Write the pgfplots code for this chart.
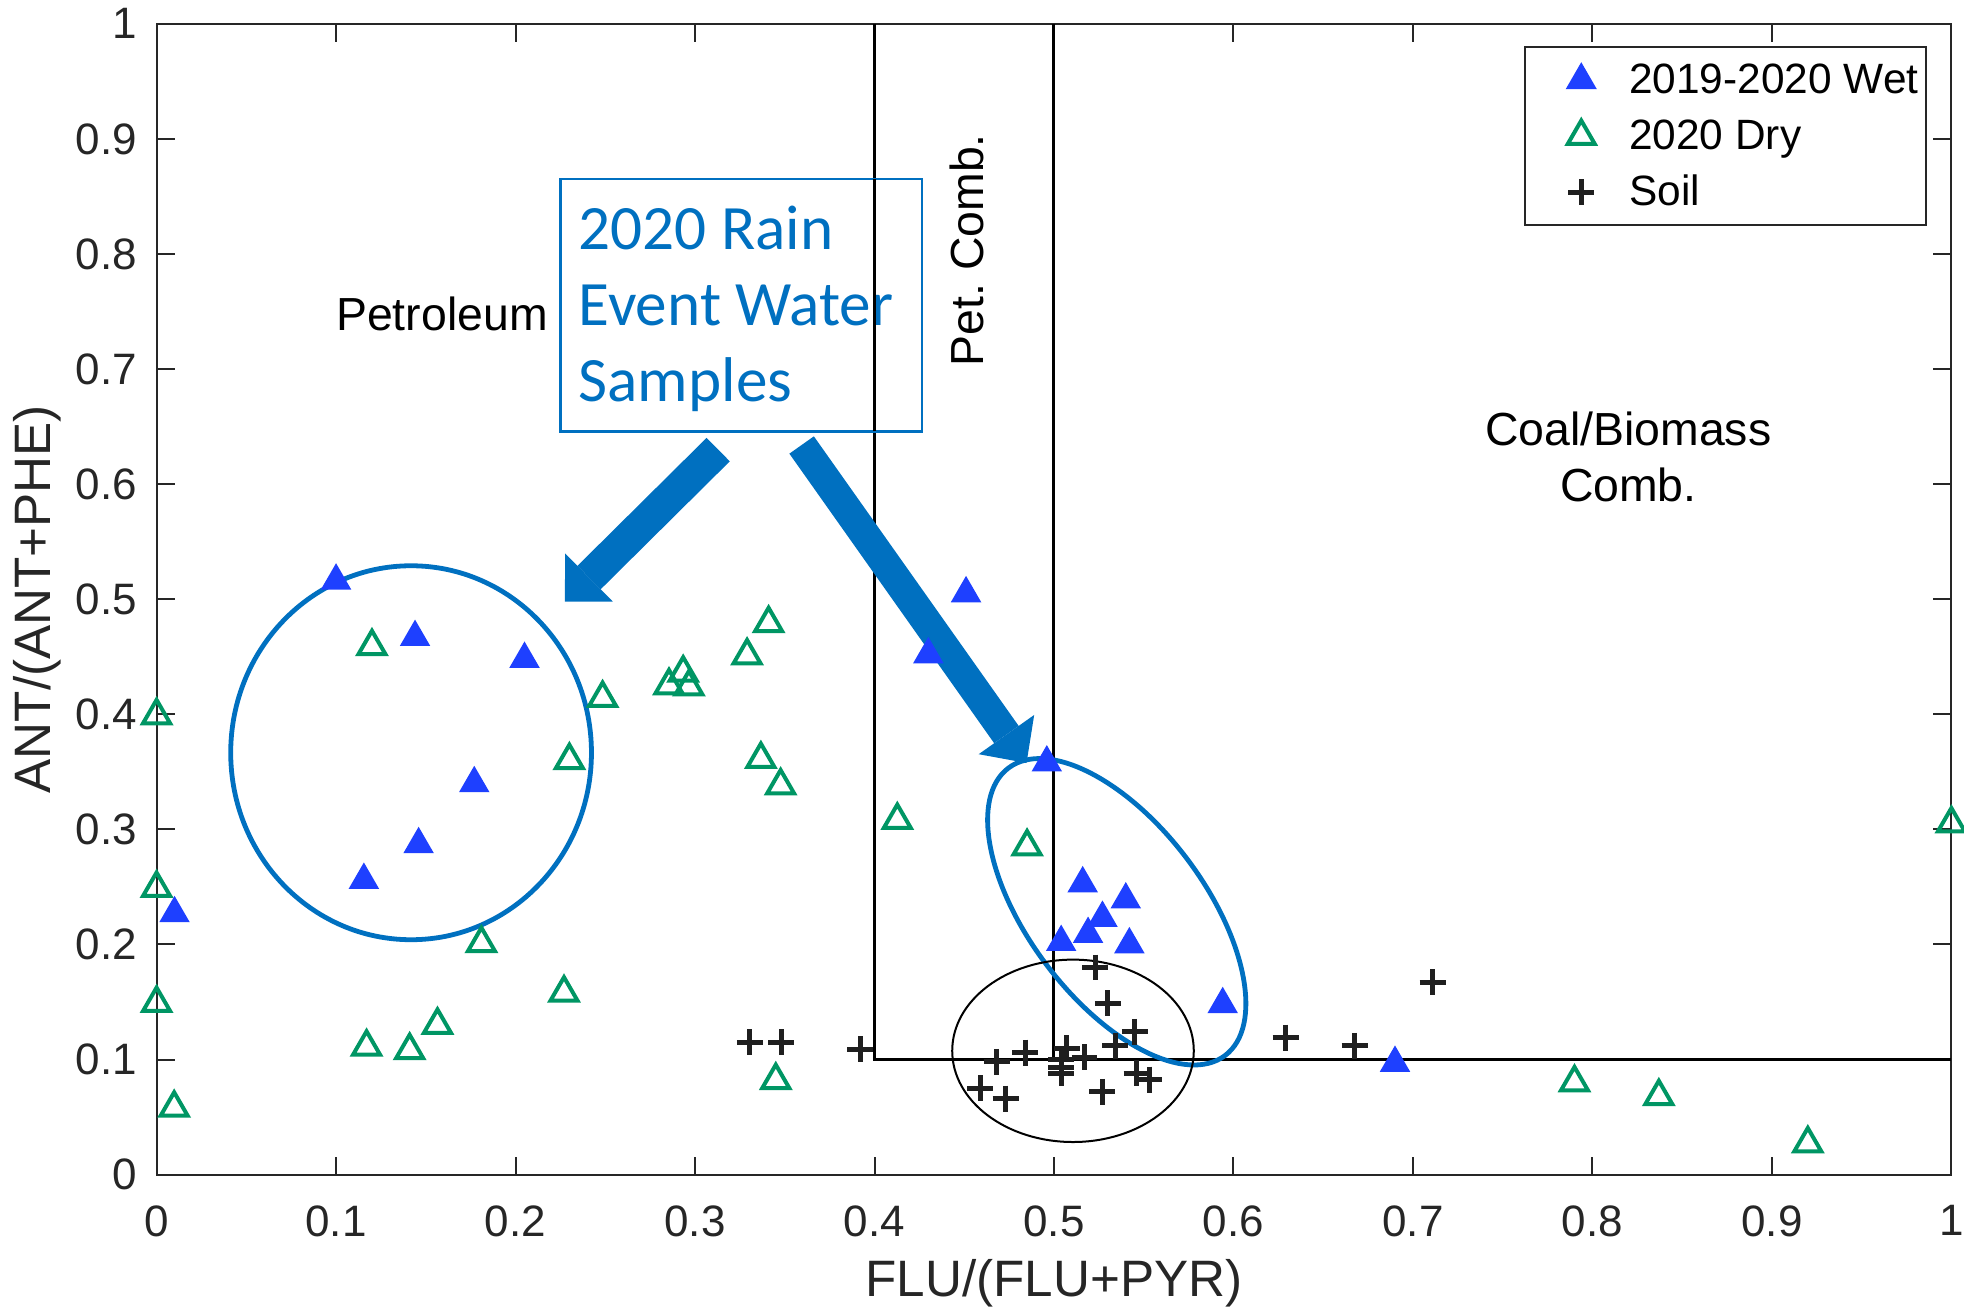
\documentclass[border=0pt]{standalone}
\usepackage{pgfplots}
\pgfplotsset{compat=1.18}
\usepackage{fontspec}
\setmainfont{Liberation Sans}
\newfontfamily\calibri{Carlito}
\usetikzlibrary{arrows.meta}
\definecolor{wetblue}{RGB}{30,64,255}
\definecolor{drygreen}{RGB}{0,150,100}
\definecolor{annblue}{RGB}{0,112,192}
\definecolor{axgray}{RGB}{38,38,38}
\frenchspacing
\begin{document}
\begin{tikzpicture}
\begin{axis}[
  at={(0,0)}, anchor=south west,
  scale only axis, width=448.75pt, height=287.75pt,
  xmin=0, xmax=1, ymin=0, ymax=1,
  clip=false,
  xtick={0,0.1,0.2,0.3,0.4,0.5,0.6,0.7,0.8,0.9,1},
  ytick={0,0.1,0.2,0.3,0.4,0.5,0.6,0.7,0.8,0.9,1},
  tick align=inside, major tick length=4.5pt,
  axis line style={axgray, line width=0.5pt},
  every tick/.style={axgray, line width=0.5pt},
  /pgf/number format/assume math mode=true,
  tick label style={font=\fontsize{11}{13}\selectfont, text=axgray, inner sep=0pt},
  xticklabel style={yshift=-7.5pt},
  yticklabel style={xshift=-4.7pt},
  xlabel={FLU/(FLU+PYR)}, ylabel={ANT/(ANT+PHE)},
  label style={font=\fontsize{12.8}{15}\selectfont, text=axgray},
  xlabel style={at={(axis description cs:0.5,-0.0947)}, anchor=center},
  ylabel style={at={(axis description cs:-0.0663,0.5)}, anchor=center},
  legend style={at={(1,1)}, anchor=north east, xshift=-6pt, yshift=-5.6pt,
    draw=axgray, line width=0.5pt, fill=white,
    inner xsep=2pt, inner ysep=3pt, row sep=3.5pt, column sep=0pt,
    nodes={inner sep=0pt, text height=8.6pt, text depth=1.9pt},
    font=\fontsize{10.6}{12}\selectfont},
  legend cell align=left,
  legend image code/.code={\path[draw=none,fill=none] (-12pt,0pt) -- (12pt,0pt); \path plot[only marks] coordinates {(0pt,0pt)};},
]
\addplot[only marks, mark=triangle*, mark size=4pt, color=wetblue, mark options={draw=none, fill=wetblue}] coordinates {
(0.100,0.516) (0.144,0.467) (0.205,0.448) (0.177,0.340) (0.146,0.287) (0.1155,0.256)
(0.010,0.227) (0.451,0.505) (0.430,0.452) (0.496,0.358) (0.516,0.253) (0.540,0.239)
(0.527,0.223) (0.519,0.209) (0.504,0.202) (0.542,0.200) (0.594,0.148) (0.690,0.097)
};
\addlegendentry{2019-2020 Wet}
\addplot[only marks, mark=triangle, mark size=3.9pt, color=drygreen, line width=1pt, mark options={line join=miter}] coordinates {
(0,0.399) (0,0.249) (0,0.149) (0.0098,0.058) (0.120,0.459) (0.117,0.111) (0.141,0.108)
(0.1565,0.130) (0.181,0.201) (0.227,0.158) (0.230,0.360) (0.2485,0.414) (0.2855,0.425)
(0.2934,0.436) (0.2966,0.424) (0.329,0.451) (0.341,0.479) (0.3367,0.361) (0.3477,0.338)
(0.345,0.082) (0.4127,0.308) (0.485,0.285) (0.790,0.080) (0.837,0.068) (0.920,0.027)
(1.0,0.305)
};
\addlegendentry{2020 Dry}
\addplot[only marks, mark=+, mark size=3.25pt, color=black!88, line width=1.25pt] coordinates {
(0.3306,0.115) (0.348,0.115) (0.392,0.109) (0.459,0.075) (0.468,0.098) (0.473,0.066)
(0.484,0.106) (0.504,0.093) (0.504,0.100) (0.507,0.110) (0.504,0.088) (0.517,0.102)
(0.523,0.180) (0.527,0.072) (0.530,0.149) (0.534,0.112) (0.545,0.124) (0.546,0.088)
(0.553,0.0825) (0.629,0.119) (0.6675,0.112) (0.711,0.167)
};
\addlegendentry{Soil}
% region lines
\draw[black, line width=0.75pt] (axis cs:0.4,1) -- (axis cs:0.4,0.1) -- (axis cs:1,0.1);
\draw[black, line width=0.75pt] (axis cs:0.5,1) -- (axis cs:0.5,0.1);
% region labels
\node[font=\fontsize{11.6}{14}\selectfont] at (axis cs:0.159,0.7477) {Petroleum};
\node[rotate=90, font=\fontsize{11.6}{14}\selectfont] at (axis cs:0.4515,0.8032) {Pet. Comb.};
\node[align=center, font=\fontsize{11.6}{13.8}\selectfont] at (axis cs:0.820,0.6237) {Coal/Biomass\\Comb.};
% callout box
\draw[annblue, line width=0.6pt, fill=white] (axis cs:0.2251,0.6458) rectangle (axis cs:0.4264,0.865);
\node[anchor=base west, inner sep=0pt, text=annblue, font=\calibri\fontsize{15.8}{19}\selectfont] at (axis cs:0.2347,0.8037) {2020 Rain};
\node[anchor=base west, inner sep=0pt, text=annblue, font=\calibri\fontsize{15.8}{19}\selectfont] at (axis cs:0.2347,0.7377) {Event Water};
\node[anchor=base west, inner sep=0pt, text=annblue, font=\calibri\fontsize{15.8}{19}\selectfont] at (axis cs:0.2347,0.6716) {Samples};
\draw[black, line width=0.75pt] (axis cs:0.4,0.6458) -- (axis cs:0.4,0.865);
% arrows
\draw[annblue, line width=8.25pt, -{Triangle[width=17pt,length=8.5pt,line width=0pt]}] (axis cs:0.3129,0.630) -- (axis cs:0.2275,0.498);
\draw[annblue, line width=7.5pt, -{Triangle[width=17pt,length=8.7pt,line width=0pt]}] (axis cs:0.3594,0.634) -- (axis cs:0.4847,0.3577);
% ellipses
\draw[annblue, line width=1.2pt] (axis cs:0.1418,0.3666) ellipse [x radius=45.1pt, y radius=46.75pt];
\coordinate (E) at (axis cs:0.5349,0.2285);
\draw[annblue, line width=1.2pt, rotate around={-53:(E)}] (E) ellipse [x radius=45pt, y radius=22pt];
\draw[black, line width=0.5pt] (axis cs:0.5106,0.1076) ellipse [x radius=30.2pt, y radius=22.8pt];
\end{axis}
\pgfresetboundingbox
\path[use as bounding box] (-39.15pt,-34.75pt) rectangle (451.9pt,293.7pt);
\end{tikzpicture}
\end{document}
